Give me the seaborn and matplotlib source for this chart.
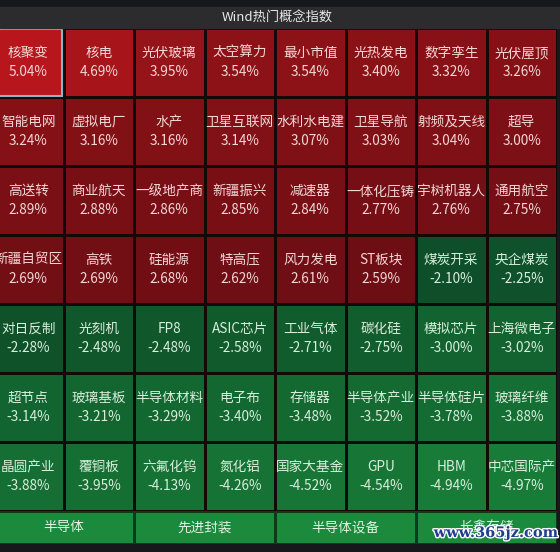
import numpy as np
import matplotlib
matplotlib.use("Agg")
import matplotlib.pyplot as plt
import matplotlib.patheffects as pe
from matplotlib.colors import LinearSegmentedColormap, ListedColormap
from matplotlib.patches import Rectangle
import seaborn as sns

# concept names and daily change (%) in the 8 x 7 grid, row by row
names = [
    ["核聚变", "核电", "光伏玻璃", "太空算力", "最小市值", "光热发电", "数字孪生", "光伏屋顶"],
    ["智能电网", "虚拟电厂", "水产", "卫星互联网", "水利水电建", "卫星导航", "射频及天线", "超导"],
    ["高送转", "商业航天", "一级地产商", "新疆振兴", "减速器", "一体化压铸", "宇树机器人", "通用航空"],
    ["新疆自贸区", "高铁", "硅能源", "特高压", "风力发电", "ST板块", "煤炭开采", "央企煤炭"],
    ["对日反制", "光刻机", "FP8", "ASIC芯片", "工业气体", "碳化硅", "模拟芯片", "上海微电子"],
    ["超节点", "玻璃基板", "半导体材料", "电子布", "存储器", "半导体产业", "半导体硅片", "玻璃纤维"],
    ["晶圆产业", "覆铜板", "六氟化钨", "氮化铝", "国家大基金", "GPU", "HBM", "中芯国际产"],
]
changes = [
    [5.04, 4.69, 3.95, 3.54, 3.54, 3.40, 3.32, 3.26],
    [3.24, 3.16, 3.16, 3.14, 3.07, 3.03, 3.04, 3.00],
    [2.89, 2.88, 2.86, 2.85, 2.84, 2.77, 2.76, 2.75],
    [2.69, 2.69, 2.68, 2.62, 2.61, 2.59, -2.10, -2.25],
    [-2.28, -2.48, -2.48, -2.58, -2.71, -2.75, -3.00, -3.02],
    [-3.14, -3.21, -3.29, -3.40, -3.48, -3.52, -3.78, -3.88],
    [-3.88, -3.95, -4.13, -4.26, -4.52, -4.54, -4.94, -4.97],
]
tabs = ["半导体", "先进封装", "半导体设备", "长鑫存储"]
title = "Wind热门概念指数"

vmin, vmax = -5.0, 5.04
anchors = [(-5.0, "#187b38"), (-3.0, "#12632f"), (-2.1, "#0e4e29"),
           (2.59, "#6d0e14"), (3.0, "#7d1016"), (3.5, "#8b1217"),
           (4.0, "#961419"), (4.7, "#a6151a"), (5.04, "#b7161c")]
cmap = LinearSegmentedColormap.from_list(
    "wind", [((v - vmin) / (vmax - vmin), c) for v, c in anchors])

sns.set_theme(style="white")
plt.rcParams["font.family"] = ["Noto Sans CJK SC", "DejaVu Sans"]

W, H = 560, 552
fig = plt.figure(figsize=(W / 100, H / 100), dpi=100, facecolor="#16181c")


def box(x0, y0, x1, y1):
    return [x0 / W, 1 - y1 / H, (x1 - x0) / W, (y1 - y0) / H]


# title bar
fig.patches.append(Rectangle((0, 1 - 28 / H), 1, 21 / H, transform=fig.transFigure,
                             color="#2c2c2e", zorder=0))
fig.text(277 / W, 1 - 18 / H, title, ha="center", va="center",
         color="#e8e8e8", fontsize=9.5)

# main grid
vals = np.array(changes)
labels = np.array([[f"{n}\n{v:.2f}%" for n, v in zip(rn, rv)]
                   for rn, rv in zip(names, changes)])
ax = fig.add_axes(box(-7, 28, 557, 511))
sns.heatmap(vals, ax=ax, cmap=cmap, vmin=vmin, vmax=vmax, annot=labels, fmt="",
            cbar=False, linewidths=0.8, linecolor="#140909",
            annot_kws={"fontsize": 9.8, "linespacing": 1.45})
for t, v in zip(ax.texts, vals.flatten()):
    t.set_color("#f4d6d6" if v > 0 else "#d8eedc")
ax.add_patch(Rectangle((0.02, 0.02), 0.96, 0.96, fill=False,
                       ec="#8fb3c3", lw=1.5))
ax.set_axis_off()

# bottom tabs
tax = fig.add_axes(box(-7, 511, 557, 544))
sns.heatmap(np.zeros((1, len(tabs))), ax=tax, cmap=ListedColormap(["#1c8a3d"]),
            annot=np.array([tabs]), fmt="", cbar=False,
            linewidths=0.8, linecolor="#0c3a1b",
            annot_kws={"fontsize": 9.8, "color": "#e0f2e3"})
tax.set_axis_off()

# watermark
fig.text(496 / W, 1 - 533 / H, "www.365jz.com", ha="center", va="center",
         fontsize=10.5, fontweight="bold", family="DejaVu Serif", color="#203e8e",
         path_effects=[pe.withStroke(linewidth=2, foreground="white")])

fig.savefig("out.png", dpi=100, facecolor=fig.get_facecolor())
